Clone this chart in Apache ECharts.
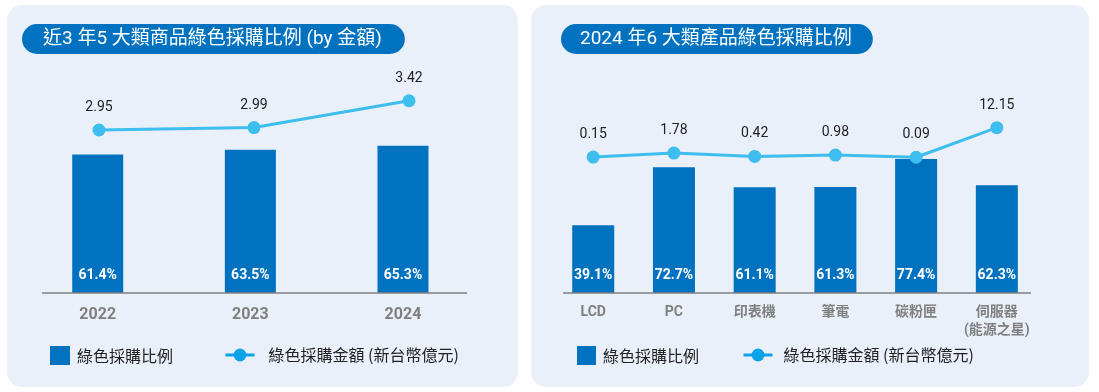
<!DOCTYPE html>
<html><head><meta charset="utf-8">
<script src="https://cdn.jsdelivr.net/npm/echarts@6/dist/echarts.min.js"></script>
<style>html,body{margin:0;padding:0;background:#fff}#c{width:1099px;height:392px}</style>
</head><body><div id="c"></div>
<script>
const years = ['2022', '2023', '2024'];
const yearShare = [61.4, 63.5, 65.3];
const yearAmount = [2.95, 2.99, 3.42];
const products = ['LCD', 'PC', '印表機', '筆電', '碳粉匣', '伺服器\n(能源之星)'];
const productShare = [39.1, 72.7, 61.1, 61.3, 77.4, 62.3];
const productAmount = [0.15, 1.78, 0.42, 0.98, 0.09, 12.15];
const barName = '綠色採購比例';
const lineName = '綠色採購金額 (新台幣億元)';
const title1 = '近3 年5 大類商品綠色採購比例 (by 金額)';
const title2 = '2024 年6 大類產品綠色採購比例';

const FONT = 'Roboto, "Noto Sans CJK TC", sans-serif';
const CJK = '"Noto Sans CJK TC", Roboto, sans-serif';
const BAR = '#0072C0';
const LINE = '#3DBEEE';
const LEG_LINE = '#0AA3E8';
const PANEL = '#EAF0FA';

const chart = echarts.init(document.getElementById('c'), null, {renderer: 'canvas'});

const barLabel = {
  show: true, position: 'insideBottom', distance: 11,
  color: '#fff', fontWeight: 'bold', fontSize: 14, fontFamily: FONT,
  formatter: p => p.value.toFixed(1) + '%'
};
const lineLabel = {
  show: true, position: 'top', distance: 9,
  color: '#222', fontSize: 14, fontFamily: FONT,
  formatter: p => p.value.toFixed(2)
};
function legend(left, top, item, w, h, pad) {
  return {
    left: left, top: top, padding: 0, itemWidth: w, itemHeight: h,
    selectedMode: false,
    textStyle: {fontSize: 16, color: '#222', fontFamily: CJK, padding: [0, 0, 0, pad]},
    data: [item]
  };
}
const barLegendItem = {name: barName, icon: 'rect', itemStyle: {color: BAR}};
const lineLegendItem = {name: lineName, itemStyle: {color: LEG_LINE}, lineStyle: {color: LEG_LINE, width: 3}};

chart.setOption({
  animation: false,
  graphic: [
    {type: 'rect', z: -10, shape: {x: 7, y: 5, width: 511, height: 382, r: 15}, style: {fill: PANEL}},
    {type: 'rect', z: -10, shape: {x: 531, y: 5, width: 558, height: 382, r: 15}, style: {fill: PANEL}},
    {type: 'line', z: 5, shape: {x1: 42, y1: 293, x2: 467, y2: 293}, style: {stroke: '#808080', lineWidth: 1.3}},
    {type: 'line', z: 5, shape: {x1: 563, y1: 293, x2: 1031, y2: 293}, style: {stroke: '#808080', lineWidth: 1.3}}
  ],
  title: [
    {text: title1, left: 22, top: 24, backgroundColor: BAR, borderRadius: 15, padding: [4, 23, 4, 21],
     textStyle: {color: '#fff', fontSize: 19, fontWeight: 'normal', fontFamily: FONT, lineHeight: 22}},
    {text: title2, left: 561, top: 24, backgroundColor: BAR, borderRadius: 15, padding: [4, 21, 4, 19],
     textStyle: {color: '#fff', fontSize: 19, fontWeight: 'normal', fontFamily: FONT, lineHeight: 22}}
  ],
  legend: [
    legend(50, 346, barLegendItem, 20, 19, 2),
    legend(224, 347, lineLegendItem, 29, 16, 9),
    legend(577, 346, barLegendItem, 19, 19, 2),
    legend(742, 347, lineLegendItem, 29, 16, 6)
  ],
  grid: [
    {left: 21.4, width: 457.9, top: 60, height: 233},
    {left: 21.5, width: 465, top: 60, height: 233},
    {left: 552.85, width: 484.35, top: 60, height: 233}
  ],
  xAxis: [
    {type: 'category', gridIndex: 0, data: years, axisLine: {show: false}, axisTick: {show: false},
     axisLabel: {margin: 14, color: '#7F7F7F', fontSize: 16, fontWeight: 'bold', fontFamily: FONT}},
    {type: 'category', gridIndex: 1, data: years, show: false},
    {type: 'category', gridIndex: 2, data: products, axisLine: {show: false}, axisTick: {show: false},
     axisLabel: {interval: 0, hideOverlap: false, margin: 10, color: '#7F7F7F', fontSize: 14,
                 fontWeight: 'bold', fontFamily: FONT, lineHeight: 18}}
  ],
  yAxis: [
    {type: 'value', gridIndex: 0, min: 0, max: 103.3, show: false},
    {type: 'value', gridIndex: 1, min: 0.334, max: 4.074, show: false},
    {type: 'value', gridIndex: 2, min: 0, max: 134.7, show: false},
    {type: 'value', gridIndex: 2, min: -55.2, max: 39.7, show: false}
  ],
  series: [
    {name: barName, type: 'bar', xAxisIndex: 0, yAxisIndex: 0, data: yearShare, barWidth: 51,
     itemStyle: {color: BAR}, label: barLabel},
    {name: lineName, type: 'line', xAxisIndex: 1, yAxisIndex: 1, data: yearAmount, z: 3,
     symbol: 'circle', symbolSize: 13, itemStyle: {color: LINE}, lineStyle: {color: LINE, width: 3},
     label: lineLabel},
    {name: barName, type: 'bar', xAxisIndex: 2, yAxisIndex: 2, data: productShare, barWidth: 42,
     itemStyle: {color: BAR}, label: barLabel},
    {name: lineName, type: 'line', xAxisIndex: 2, yAxisIndex: 3, data: productAmount, z: 3,
     symbol: 'circle', symbolSize: 13, itemStyle: {color: LINE}, lineStyle: {color: LINE, width: 3},
     label: lineLabel}
  ]
});
</script></body></html>
